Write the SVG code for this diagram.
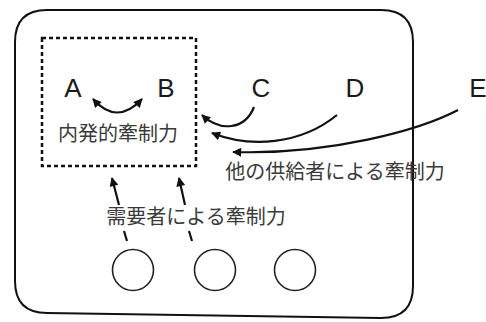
<svg xmlns="http://www.w3.org/2000/svg" width="486" height="322" viewBox="0 0 486 322">
<defs>
<marker id="ah" viewBox="0 0 10 10" refX="9" refY="5" markerWidth="10" markerHeight="9" markerUnits="userSpaceOnUse" orient="auto-start-reverse">
<path d="M0,0 L10,5 L0,10 Z" fill="#111"/>
</marker>
<style>
.lbl{font-family:"Liberation Sans",Arial,sans-serif;font-size:26px;fill:#1a1a1a;text-anchor:middle}
.jp{font-family:"Noto Sans CJK JP","Noto Sans",sans-serif;font-size:20px;fill:#3a3a3a;text-anchor:middle}
.ln{fill:none;stroke:#111;stroke-width:2.2}
.arr{fill:none;stroke:#111;stroke-width:2.2;marker-end:url(#ah)}
</style>
</defs>
<rect width="486" height="322" fill="#fff"/>
<g id="market">
<path d="M47,10 L381,10 Q413,10 413,42 L413,286 Q413,318 381,318 L47,313 Q15,313 15,281 L15,42 Q15,10 47,10 Z" fill="none" stroke="#111" stroke-width="2"/>
</g>
<g id="group-ab">
<rect x="42" y="38" width="154" height="128" fill="none" stroke="#111" stroke-width="2.5" stroke-dasharray="4 3"/>
<text class="jp" x="118" y="141">内発的牽制力</text>
</g>
<g id="node-a"><text class="lbl" x="73" y="97">A</text></g>
<g id="node-b"><text class="lbl" x="166" y="97">B</text></g>
<g id="node-c"><text class="lbl" x="261" y="97">C</text></g>
<g id="node-d"><text class="lbl" x="355" y="97">D</text></g>
<g id="node-e"><text class="lbl" x="478" y="97">E</text></g>
<g id="buyer-1"><circle cx="133" cy="270" r="20.5" fill="none" stroke="#222" stroke-width="1.6"/></g>
<g id="buyer-2"><circle cx="215" cy="270" r="20.5" fill="none" stroke="#222" stroke-width="1.6"/></g>
<g id="buyer-3"><circle cx="295" cy="270" r="20.5" fill="none" stroke="#222" stroke-width="1.6"/></g>
<g id="connectors">
<path class="ln" d="M93,99 Q117,126 142,99" marker-start="url(#ah)" marker-end="url(#ah)"/>
<path class="arr" d="M254,107 C245,130 220,132 202,115"/>
<path class="arr" d="M337,115 C300,145 250,148 212,133"/>
<path class="arr" d="M458,110 C420,130 330,155 233,152"/>
<path class="arr" d="M127,241 L124,231 M119,205 L112,178"/>
<path class="arr" d="M192,241 L189,231 M185,205 L179,178"/>
</g>
<text class="jp" x="335" y="179">他の供給者による牽制力</text>
<text class="jp" x="196" y="224">需要者による牽制力</text>
</svg>
